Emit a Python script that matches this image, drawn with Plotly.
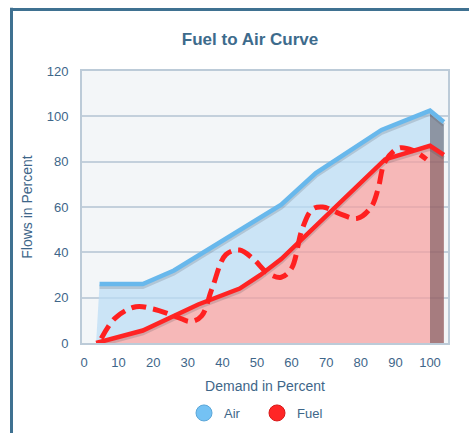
import plotly.graph_objects as go

# ---- data ----
air_x = [4.5, 17, 26, 57, 67, 86, 100, 104]
air_y = [26, 26, 32, 61, 75, 94, 102.5, 97.5]

fuel_x = [3.5, 17, 33, 45, 51, 57, 87, 100, 104]
fuel_y = [0, 5.5, 17, 24, 30, 37, 81, 87, 83]

# hand-drawn dashed red curve
mark_x = [5, 9, 15, 20, 26, 31, 34, 37, 41, 45, 49, 53, 57, 60, 63, 66, 69, 74, 79, 83, 85, 87, 91, 95, 99]
mark_y = [2, 11, 16, 15, 12, 9.5, 12, 24, 39, 41, 37, 31, 29, 33, 50, 59, 60, 57, 55, 60, 68, 80, 86, 85, 81]

x_ticks = [0, 10, 20, 30, 40, 50, 60, 70, 80, 90, 100]
y_ticks = [0, 20, 40, 60, 80, 100, 120]

W, H = 469, 433
L, R, T, B = 82, 21, 71, 90
PW, PH = W - L - R, H - T - B

AXIS_COL = "#3e6689"
FONT = "Liberation Sans, Arial, sans-serif"

fig = go.Figure()

# fills
fig.add_trace(go.Scatter(x=fuel_x, y=fuel_y, mode="lines", line=dict(width=0),
                         fill="tozeroy", fillcolor="rgba(246,160,160,0.72)",
                         showlegend=False, hoverinfo="skip"))
fig.add_trace(go.Scatter(x=air_x, y=air_y, mode="lines", line=dict(width=0),
                         fill="tonexty", fillcolor="rgba(187,220,245,0.72)",
                         showlegend=False, hoverinfo="skip"))
# dark end face
fig.add_trace(go.Scatter(x=air_x[-2:], y=[v - 1.2 for v in air_y[-2:]], mode="lines",
                         line=dict(width=0), fill="tozeroy",
                         fillcolor="rgba(55,40,48,0.42)",
                         showlegend=False, hoverinfo="skip"))
# shadows
fig.add_trace(go.Scatter(x=air_x, y=[v - 1.3 for v in air_y], mode="lines",
                         line=dict(color="rgba(60,60,70,0.18)", width=4),
                         showlegend=False, hoverinfo="skip"))
fig.add_trace(go.Scatter(x=fuel_x, y=[v - 1.3 for v in fuel_y], mode="lines",
                         line=dict(color="rgba(60,60,70,0.18)", width=4),
                         showlegend=False, hoverinfo="skip"))
# lines
fig.add_trace(go.Scatter(x=air_x, y=air_y, mode="lines", name="Air",
                         line=dict(color="#68b8ec", width=4.5), showlegend=False))
fig.add_trace(go.Scatter(x=fuel_x, y=fuel_y, mode="lines", name="Fuel",
                         line=dict(color="#ff2424", width=4.5), showlegend=False))
# dashed marker curve
fig.add_trace(go.Scatter(x=mark_x, y=mark_y, mode="lines",
                         line=dict(color="#ff2020", width=5, dash="15px,7px",
                                   shape="spline", smoothing=1.0),
                         showlegend=False, hoverinfo="skip"))

# legend entries
fig.add_trace(go.Scatter(x=[None], y=[None], mode="markers", name="Air",
                         marker=dict(color="#74c2f4", size=20,
                                     line=dict(color="#5aa6d8", width=1))))
fig.add_trace(go.Scatter(x=[None], y=[None], mode="markers", name="Fuel",
                         marker=dict(color="#ff2626", size=20,
                                     line=dict(color="#d81818", width=1))))

# outer frame (left and top)
lx = (11.5 - L) / PW
ty = (H - B - 9.5) / PH
fig.add_shape(type="line", xref="paper", yref="paper", x0=lx, x1=lx,
              y0=ty + 0.006, y1=(H - B - 445) / PH,
              line=dict(color="#3f7191", width=3))
fig.add_shape(type="line", xref="paper", yref="paper", x0=lx, x1=(480 - L) / PW,
              y0=ty, y1=ty, line=dict(color="#3f7191", width=3))

fig.update_layout(
    width=W, height=H,
    margin=dict(l=L, r=R, t=T, b=B, autoexpand=False),
    paper_bgcolor="white",
    plot_bgcolor="#f3f6f8",
    font=dict(family=FONT, color=AXIS_COL, size=13),
    title=dict(text="<b>Fuel to Air Curve</b>", x=250 / W, xanchor="center",
               y=1 - 39 / H, yanchor="middle",
               font=dict(size=17, color="#3d6b8c", family=FONT)),
    showlegend=True,
    legend=dict(orientation="h", x=(257 - L) / PW, xanchor="center",
                y=-(413 - (H - B)) / PH, yanchor="middle",
                traceorder="normal", itemsizing="trace", entrywidth=28,
                font=dict(size=13, color=AXIS_COL), itemwidth=30,
                bgcolor="rgba(0,0,0,0)"),
)
fig.update_xaxes(range=[(L - 84) / 3.46, (L + PW - 84) / 3.46],
                 tickvals=x_ticks, ticktext=[str(v) for v in x_ticks],
                 showgrid=False, zeroline=False, automargin=False,
                 showline=True, linecolor="#bccbd8", linewidth=2, mirror=True,
                 ticks="", ticklabelstandoff=6,
                 tickfont=dict(size=13, color=AXIS_COL),
                 title=dict(text="Demand in Percent", standoff=13,
                            font=dict(size=14, color=AXIS_COL)))
fig.update_yaxes(range=[0, 120], tickvals=y_ticks, automargin=False,
                 showgrid=True, gridcolor="#c3d0dc", gridwidth=2, zeroline=False,
                 showline=True, linecolor="#bccbd8", linewidth=2, mirror=True,
                 ticks="", ticklabelstandoff=9,
                 tickfont=dict(size=13, color=AXIS_COL),
                 title=dict(text="Flows in Percent", standoff=11,
                            font=dict(size=14, color=AXIS_COL)))

fig.write_html("out.html", config={"displayModeBar": False},
               post_script="document.body.style.margin='0';document.body.style.overflow='hidden';")
